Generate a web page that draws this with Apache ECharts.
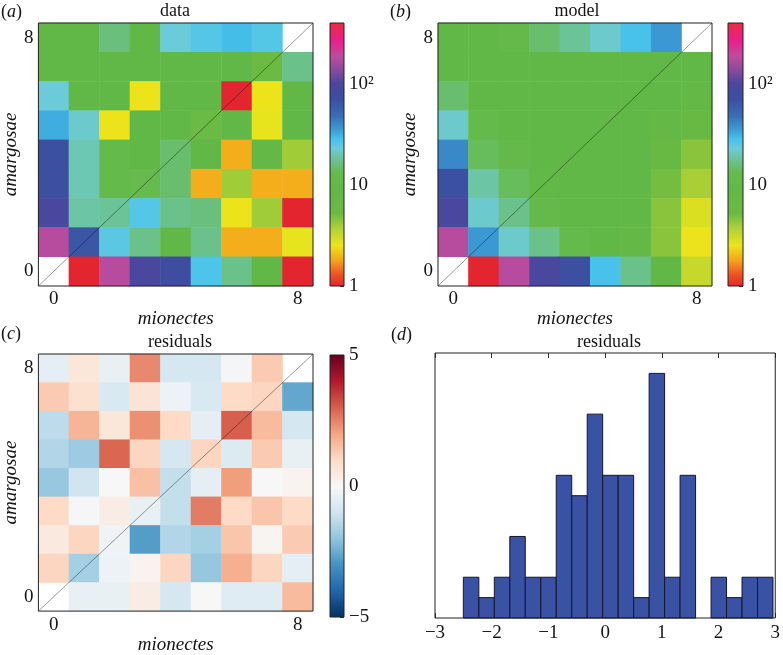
<!DOCTYPE html>
<html><head><meta charset="utf-8">
<script src="https://cdn.jsdelivr.net/npm/echarts@6/dist/echarts.min.js"></script>
<style>html,body{margin:0;padding:0;background:#fff}#c{width:783px;height:655px}</style>
</head><body><div id="c"></div>
<script>
// ---------------- data ----------------
const cells = ['0','1','2','3','4','5','6','7','8'];
const shownTicks = ['0','8'];
// rows listed from top (amargosae = 8) to bottom (amargosae = 0); columns mionectes 0..8
const dataGrid = [
  [9, 9, 16, 9, 23, 26, 29, 26, null],
  [9, 9, 9, 9, 9, 9, 9, 5.6, 17],
  [23, 9, 9, 2.5, 9, 9, 1, 2.5, 9],
  [32, 22, 2.5, 9, 9, 6, 9, 2.6, 9],
  [70, 20, 12, 9, 15, 9, 1.9, 8, 4],
  [72, 20, 12, 13, 15, 1.9, 4, 1.9, 1.9],
  [95, 19, 18, 26, 17, 16, 2.5, 4, 1],
  [180, 65, 25, 17, 9, 17, 1.9, 1.9, 2.6],
  [null, 1, 180, 95, 75, 27, 17, 9, 1]
];
const modelGrid = [
  [9, 9, 11, 15, 18, 22, 28, 36, null],
  [9, 9, 9, 9, 9, 9, 9, 9, 9],
  [15, 9, 9, 9, 9, 9, 9, 9, 8],
  [22, 12, 9, 9, 9, 9, 9, 8, 6.5],
  [40, 14, 11, 9, 9, 9, 9, 6.5, 4.5],
  [70, 19, 14, 10, 9, 9, 9, 5, 3.8],
  [95, 22, 17, 11, 9, 9, 9, 4.5, 2.8],
  [180, 36, 22, 17, 12, 9, 8, 4.5, 2.5],
  [null, 1, 180, 95, 72, 28, 17, 9, 3.2]
];
const residGrid = [
  [-0.5, 0.6, -0.4, 2.4, -0.9, -0.9, -0.1, 1.3, null],
  [1.3, 0.8, -0.8, 0.7, -0.3, -0.8, 1.0, 1.1, -2.6],
  [-1.3, 1.7, 0.6, 2.3, 1.0, -0.5, 3.0, 1.6, -0.9],
  [-1.5, -1.8, 2.9, 1.1, -0.9, 1.1, -0.7, 1.3, -0.4],
  [-1.9, -1.0, 0.0, 1.5, -1.2, -0.5, 2.1, 0.0, 0.15],
  [1.0, -0.05, 0.4, -0.4, -1.2, 2.6, 1.0, 1.4, 1.0],
  [0.5, 1.1, -0.2, -2.8, -1.5, -1.7, 1.4, 0.1, 1.3],
  [1.1, -1.7, -0.3, 0.15, 1.1, -1.95, 1.8, 1.1, -0.5],
  [null, -0.4, -0.4, 0.4, -0.9, 0.0, -0.6, -0.6, 1.6]
];
const histEdges = [-2.5, -2.227, -1.954, -1.681, -1.408, -1.135, -0.862, -0.589, -0.316, -0.043,
  0.230, 0.503, 0.776, 1.049, 1.322, 1.595, 1.868, 2.141, 2.414, 2.687, 2.960];
const histCounts = [2, 1, 2, 4, 2, 2, 7, 6, 10, 7, 7, 1, 12, 2, 7, 0, 2, 1, 2, 2];
const diagLine = [[-0.5, -0.5], [8.5, 8.5]];
const logTickText = ['1', '10', '10²'];   // at log10 = 0, 1, 2
const residTickText = {'-5': '−5', '0': '0', '5': '5'};

// ---------------- styling ----------------
const F = "'Liberation Serif', 'Times New Roman', serif";
const TXT = '#141414';
const LOGMAX = 2.6;
const cmapStops = [
  [0.00,'#e32530'],[0.12,'#ee5527'],[0.25,'#f6a21c'],[0.40,'#ece41a'],[0.56,'#b3d235'],
  [0.72,'#6cba43'],[0.95,'#62b846'],[1.12,'#66ba4e'],[1.26,'#6cc39a'],[1.36,'#6ccbd8'],
  [1.45,'#45c3ee'],[1.55,'#3b9bd3'],[1.68,'#3a6db7'],[1.85,'#3b4fa0'],[2.00,'#4b479d'],
  [2.14,'#8a4b9f'],[2.28,'#c04b9c'],[2.42,'#ea1d8f'],[2.60,'#eb2a44']
];
const rdbu = ['#053061','#2166ac','#4393c3','#92c5de','#d1e5f0','#f7f7f7','#fddbc7','#f4a582','#d6604d','#b2182b','#67001f'];

function hex2rgb(h){return [parseInt(h.slice(1,3),16),parseInt(h.slice(3,5),16),parseInt(h.slice(5,7),16)];}
function rgb2hex(c){return '#'+c.map(v=>Math.round(v).toString(16).padStart(2,'0')).join('');}
function sampleStops(stops, n){
  const lo = stops[0][0], hi = stops[stops.length-1][0], out = [];
  for (let i = 0; i < n; i++){
    const t = lo + (hi-lo)*i/(n-1);
    let k = 0; while (k < stops.length-2 && stops[k+1][0] < t) k++;
    const a = stops[k], b = stops[k+1];
    const f = Math.min(1, Math.max(0, (t-a[0])/(b[0]-a[0])));
    const ca = hex2rgb(a[1]), cb = hex2rgb(b[1]);
    out.push(rgb2hex(ca.map((v,j)=>v+(cb[j]-v)*f)));
  }
  return out;
}
const logColors = sampleStops(cmapStops, 66);
const logGrad = cmapStops.map(s=>({offset:s[0]/LOGMAX, color:s[1]}));
const rdbuGrad = rdbu.map((c,i)=>({offset:i/(rdbu.length-1), color:c}));

function toCells(grid, fn){
  const out = [];
  grid.forEach((row, r) => row.forEach((v, c) => {
    if (v !== null) out.push([c, grid.length-1-r, fn(v)]);
  }));
  return out;
}

const grids=[], xAxes=[], yAxes=[], series=[], visualMaps=[];
const nameStyle = {fontFamily:F, fontStyle:'italic', fontSize:19, color:TXT};
const labelStyle = {fontFamily:F, fontSize:19, color:TXT};

function heatPanel(rect, grid, fn, vm){
  const gi = grids.length;
  grids.push(Object.assign({show:true, borderColor:'#222', borderWidth:1, backgroundColor:'transparent', z:10}, rect));
  const xi = xAxes.length, yi = yAxes.length;
  xAxes.push({type:'category', gridIndex:gi, data:cells, axisLine:{show:false}, axisTick:{show:false},
    axisLabel:Object.assign({interval:(i)=>shownTicks.includes(cells[i]), margin:4}, labelStyle),
    name:'mionectes', nameLocation:'middle', nameGap:18, nameTextStyle:Object.assign({verticalAlign:'top'}, nameStyle)});
  yAxes.push({type:'category', gridIndex:gi, data:cells, axisLine:{show:false}, axisTick:{show:false},
    axisLabel:Object.assign({interval:(i)=>shownTicks.includes(cells[i]), margin:5}, labelStyle),
    name:'amargosae', nameLocation:'middle', nameGap:8, nameTextStyle:nameStyle});
  xAxes.push({type:'value', gridIndex:gi, min:-0.5, max:8.5, show:false});
  yAxes.push({type:'value', gridIndex:gi, min:-0.5, max:8.5, show:false});
  const si = series.length;
  series.push({type:'heatmap', xAxisIndex:xi, yAxisIndex:yi, data:toCells(grid, fn),
    itemStyle:{borderWidth:0}, emphasis:{disabled:true}, silent:true, progressive:0});
  series.push({type:'line', xAxisIndex:xi+1, yAxisIndex:yi+1, data:diagLine, symbol:'none', silent:true,
    lineStyle:{color:'rgba(0,0,0,0.4)', width:1}});
  visualMaps.push(Object.assign({type:'continuous', show:false, seriesIndex:si, dimension:2}, vm));
}

function colorbar(rect, min, max, interval, grad, fmt){
  const gi = grids.length;
  grids.push(Object.assign({show:true, borderColor:'#222', borderWidth:1, backgroundColor:'transparent', z:10}, rect));
  const xi = xAxes.length, yi = yAxes.length;
  xAxes.push({type:'category', gridIndex:gi, data:['cb'], show:false});
  yAxes.push({type:'value', gridIndex:gi, position:'right', min, max, interval,
    axisLine:{show:false}, splitLine:{show:false},
    axisTick:{show:true, inside:true, length:4, lineStyle:{color:'#333'}},
    axisLabel:Object.assign({formatter:fmt, margin:5, showMaxLabel:true, showMinLabel:true}, labelStyle)});
  series.push({type:'custom', xAxisIndex:xi, yAxisIndex:yi, data:[[0, min, max]], encode:{x:0, y:[1,2]}, silent:true,
    renderItem:(params, api)=>{
      const cs = params.coordSys;
      const top = api.coord([0, api.value(2)])[1];
      const bot = api.coord([0, api.value(1)])[1];
      return {type:'rect', shape:{x:cs.x, y:top, width:cs.width, height:bot-top},
        style:{fill:{type:'linear', x:0, y:1, x2:0, y2:0, colorStops:grad}}};
    }});
}

// panels a, b, c
heatPanel({left:38, top:23, width:275, height:263}, dataGrid, v=>Math.log10(v), {min:0, max:LOGMAX, inRange:{color:logColors}});
heatPanel({left:438, top:23, width:274, height:263}, modelGrid, v=>Math.log10(v), {min:0, max:LOGMAX, inRange:{color:logColors}});
heatPanel({left:38, top:354, width:275, height:264}, residGrid, v=>v, {min:-5, max:5, inRange:{color:rdbu}});

// colorbars
const logFmt = v => (Math.abs(v-Math.round(v))<1e-9 && logTickText[Math.round(v)]) ? logTickText[Math.round(v)] : '';
colorbar({left:330, top:23, width:14, height:263}, 0, LOGMAX, 1, logGrad, logFmt);
colorbar({left:728, top:23, width:15, height:263}, 0, LOGMAX, 1, logGrad, logFmt);
colorbar({left:330, top:355, width:14, height:262}, -5, 5, 5, rdbuGrad, v => residTickText[String(v)] || '');

// panel d histogram
(function(){
  const gi = grids.length;
  grids.push({left:435, top:353, width:344, height:265, show:true, borderColor:'#222', borderWidth:1, backgroundColor:'transparent', z:10});
  const xi = xAxes.length, yi = yAxes.length;
  xAxes.push({type:'value', gridIndex:gi, min:-3, max:3, interval:1, position:'bottom',
    axisLine:{show:false}, splitLine:{show:false},
    axisTick:{show:true, inside:true, length:5, lineStyle:{color:'#333'}},
    axisLabel:Object.assign({margin:6, formatter:v => v<0 ? '−'+Math.abs(v) : String(v)}, labelStyle)});
  xAxes.push({type:'value', gridIndex:gi, min:-3, max:3, interval:1, position:'top',
    axisLine:{show:false}, splitLine:{show:false}, axisLabel:{show:false},
    axisTick:{show:true, inside:true, length:5, lineStyle:{color:'#333'}}});
  yAxes.push({type:'value', gridIndex:gi, min:0, max:13, show:false});
  const hdata = [];
  histCounts.forEach((c,i)=>{ if (c>0) hdata.push([histEdges[i], histEdges[i+1], c]); });
  series.push({type:'custom', xAxisIndex:xi, yAxisIndex:yi, data:hdata, encode:{x:[0,1], y:2}, silent:true,
    renderItem:(params, api)=>{
      const p0 = api.coord([api.value(0), api.value(2)]);
      const p1 = api.coord([api.value(1), 0]);
      return {type:'rect', shape:{x:p0[0], y:p0[1], width:p1[0]-p0[0], height:p1[1]-p0[1]},
        style:{fill:'#3a52a3', stroke:'#151530', lineWidth:1}};
    }});
})();

function title(text, x, y){
  return {type:'text', x, y, silent:true, z:20,
    style:{text, fontFamily:F, fontSize:18, fill:TXT, align:'center', verticalAlign:'middle'}};
}
function panelLabel(letter, x, y){
  return {type:'text', x, y, silent:true, z:20,
    style:{text:'{p|(}{i|'+letter+'}{p|)}', align:'left', verticalAlign:'middle', fontFamily:F, fontSize:18, fill:TXT,
      rich:{p:{fontFamily:F, fontSize:18, fill:TXT}, i:{fontFamily:F, fontStyle:'italic', fontSize:18, fill:TXT}}}};
}

const chart = echarts.init(document.getElementById('c'), null, {renderer:'canvas'});
chart.setOption({
  animation:false,
  backgroundColor:'#fff',
  textStyle:{fontFamily:F},
  grid:grids, xAxis:xAxes, yAxis:yAxes, series, visualMap:visualMaps,
  graphic:[
    title('data', 175, 11), title('model', 577, 11),
    title('residuals', 180, 342), title('residuals', 609, 342),
    panelLabel('a', 1, 12), panelLabel('b', 390, 12), panelLabel('c', 1, 334), panelLabel('d', 391, 335)
  ]
});
</script></body></html>
